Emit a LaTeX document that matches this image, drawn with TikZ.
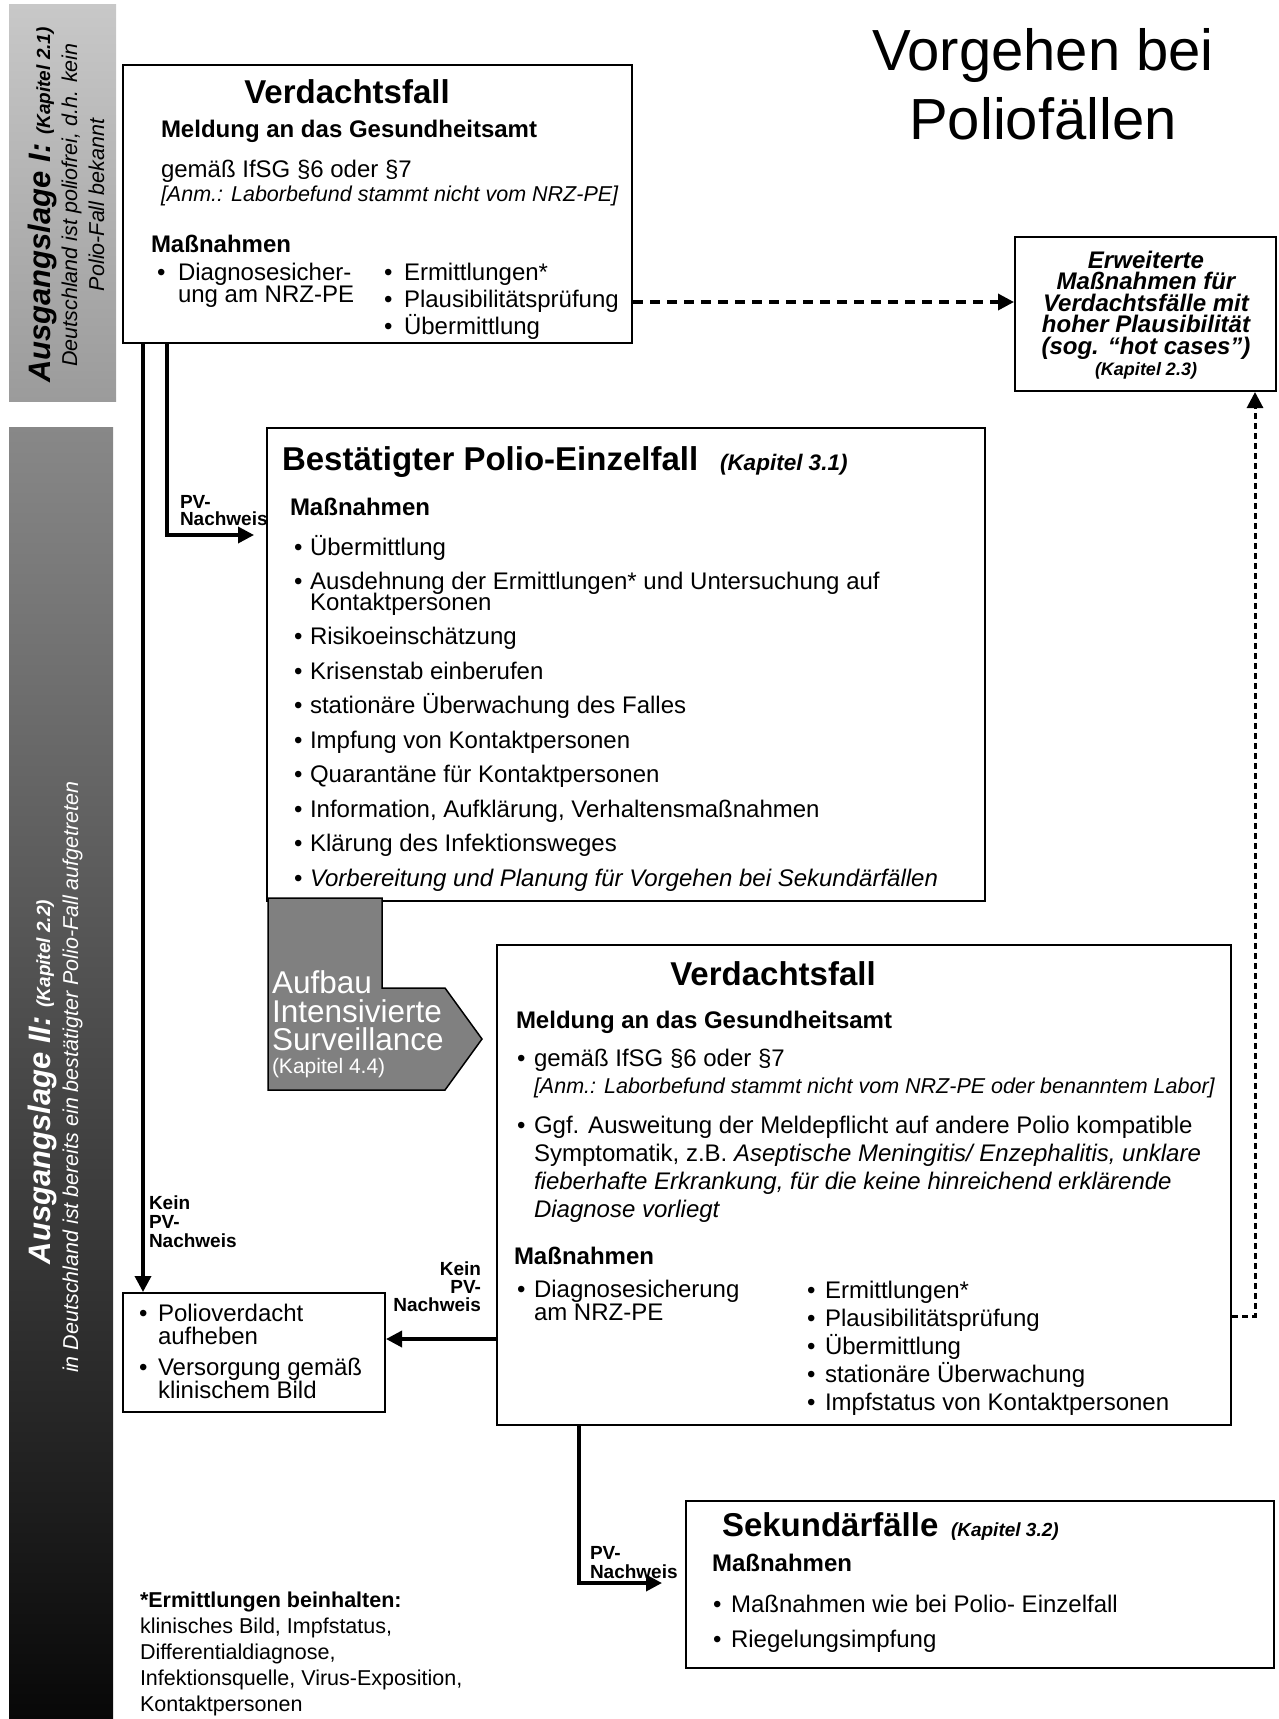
\documentclass[tikz,border=0pt]{standalone}
\usepackage{fontspec}
\setmainfont{Liberation Sans}
\usetikzlibrary{arrows.meta,fit}
\newcommand\fsz[1]{\fontsize{#1}{#1}\selectfont}
\definecolor{barAtop}{RGB}{200,200,200}
\definecolor{barAbot}{RGB}{155,155,155}
\definecolor{barBtop}{RGB}{136,136,136}
\definecolor{barBbot}{RGB}{8,8,8}
\definecolor{midgray}{RGB}{128,128,128}
\begin{document}
\begin{tikzpicture}[x=1pt,y=-1pt,
  box/.style={draw=black, line width=2pt, inner sep=0pt, fill=white},
  txt/.style={anchor=base west, inner sep=0pt, outer sep=0pt},
  ctxt/.style={anchor=base, inner sep=0pt, outer sep=0pt},
  rtxt/.style={anchor=base east, inner sep=0pt, outer sep=0pt},
  body/.style={font=\fsz{24}},
  bbody/.style={font=\fsz{24}\bfseries},
  ibody/.style={font=\fsz{24}\itshape},
  note/.style={font=\fsz{21.5}\itshape},
  ttl/.style={font=\fsz{33}\bfseries},
  lbl/.style={font=\fsz{19}\bfseries},
  foot/.style={font=\fsz{21.5}},
  etxt/.style={anchor=base west, inner sep=0pt, outer sep=0pt, text=white, font=\fsz{31.5}},
  arr/.style={line width=3.5pt, -{Triangle[length=16pt,width=16pt]}},
  dshA/.style={line width=3.5pt, dash pattern=on 10pt off 7pt, -{Triangle[length=16pt,width=16pt]}},
  dshB/.style={line width=3pt, dash pattern=on 6pt off 4pt, -{Triangle[length=16pt,width=16pt]}}
]
\useasboundingbox (0,0) rectangle (1279,1719);

% side bars
\node[fit={(9,4) (116,401)}, inner sep=0pt, top color=barAtop, bottom color=barAbot] (bar1) {};
\node[fit={(9,427) (113,1719)}, inner sep=0pt, top color=barBtop, bottom color=barBbot] (bar2) {};
\node[ctxt, rotate=90] (bar1a) at (50,205) {\fsz{31}\bfseries\itshape Ausgangslage I: {\fsz{19}(Kapitel 2.1)}};
\node[ctxt, rotate=90, note] (bar1b) at (77,205) {Deutschland ist poliofrei, d.h. kein};
\node[ctxt, rotate=90, note] (bar1c) at (104,205) {Polio-Fall bekannt};
\node[ctxt, rotate=90, text=white] (bar2a) at (50,1082) {\fsz{31}\bfseries\itshape Ausgangslage II: {\fsz{19}(Kapitel 2.2)}};
\node[ctxt, rotate=90, note, text=white] (bar2b) at (78,1077) {in Deutschland ist bereits ein bestätigter Polio-Fall aufgetreten};

% title
\node[ctxt, font=\fsz{58}] (title1) at (1043,70) {Vorgehen bei};
\node[ctxt, font=\fsz{58}] (title2) at (1043,139) {Poliofällen};

% boxes
\node[box, fit={(123,65) (632,343)}] (A) {};
\node[box, fit={(1015,237) (1276,391)}] (B) {};
\node[box, fit={(267,428) (985,901)}] (D) {};
\node[box, fit={(497,945) (1231,1425)}] (C) {};
\node[box, fit={(123,1293) (385,1412)}] (F) {};
\node[box, fit={(686,1501) (1274,1668)}] (G) {};

% box A
\node[ctxt, ttl] (a1) at (347,103) {Verdachtsfall};
\node[txt, bbody] (a2) at (161,137) {Meldung an das Gesundheitsamt};
\node[txt, body] (a3) at (161,177) {gemäß IfSG §6 oder §7};
\node[txt, note] (a4) at (161,201) {[Anm.: Laborbefund stammt nicht vom NRZ-PE]};
\node[txt, bbody] (a5) at (151,252) {Maßnahmen};
\node[txt, body] (a6b) at (157,280) {•};
\node[txt, body] (a6) at (178,280) {Diagnosesicher-};
\node[txt, body] (a7) at (178,302) {ung am NRZ-PE};
\node[txt, body] (a8b) at (384,280) {•};
\node[txt, body] (a8) at (404,280) {Ermittlungen*};
\node[txt, body] (a9b) at (384,307) {•};
\node[txt, body] (a9) at (404,307) {Plausibilitätsprüfung};
\node[txt, body] (a10b) at (384,334) {•};
\node[txt, body] (a10) at (404,334) {Übermittlung};

% box B
\node[ctxt, font=\fsz{24}\bfseries\itshape] (b1) at (1146,268) {Erweiterte};
\node[ctxt, font=\fsz{24}\bfseries\itshape] (b2) at (1146,289.5) {Maßnahmen für};
\node[ctxt, font=\fsz{24}\bfseries\itshape] (b3) at (1146,311) {Verdachtsfälle mit};
\node[ctxt, font=\fsz{24}\bfseries\itshape] (b4) at (1146,332.5) {hoher Plausibilität};
\node[ctxt, font=\fsz{24}\bfseries\itshape] (b5) at (1146,354) {(sog. “hot cases”)};
\node[ctxt, font=\fsz{18}\bfseries\itshape] (b6) at (1146,375) {(Kapitel 2.3)};

% box D
\node[txt, ttl] (d1) at (282,470) {Bestätigter Polio-Einzelfall};
\node[txt, font=\fsz{22.5}\bfseries\itshape] (d1k) at (720,470) {(Kapitel 3.1)};
\node[txt, bbody] (d2) at (290,515) {Maßnahmen};
\foreach \n/\yy/\t in {1/555/Übermittlung,
  2/589.5/Ausdehnung der Ermittlungen* und Untersuchung auf,
  3/644.5/Risikoeinschätzung,
  4/679/Krisenstab einberufen,
  5/713.5/stationäre Überwachung des Falles,
  6/748/Impfung von Kontaktpersonen,
  7/782.5/Quarantäne für Kontaktpersonen,
  8/817/{Information, Aufklärung, Verhaltensmaßnahmen},
  9/851.5/Klärung des Infektionsweges}{
  \node[txt, body] (dbul\n) at (294,\yy) {•};
  \node[txt, body] (ditem\n) at (310,\yy) {\t};
}
\node[txt, body] (ditem2b) at (310,610.5) {Kontaktpersonen};
\node[txt, body] (dbul10) at (294,886) {•};
\node[txt, ibody] (ditem10) at (310,886) {Vorbereitung und Planung für Vorgehen bei Sekundärfällen};

% shape E
\draw[line width=1.5pt, fill=midgray] (268,898) -- (382,898) -- (382,988) -- (445,988) -- (482,1039) -- (445,1090) -- (268,1090) -- cycle;
\node[etxt] (e1) at (272,993) {Aufbau};
\node[etxt] (e2) at (272,1022) {Intensivierte};
\node[etxt] (e3) at (272,1050) {Surveillance};
\node[etxt, font=\fsz{21}] (e4) at (272,1073) {(Kapitel 4.4)};

% box C
\node[ctxt, ttl] (c1) at (773,985) {Verdachtsfall};
\node[txt, bbody] (c2) at (516,1028) {Meldung an das Gesundheitsamt};
\node[txt, body] (c3b) at (517,1066) {•};
\node[txt, body] (c3) at (534,1066) {gemäß IfSG §6 oder §7};
\node[txt, note] (c4) at (534,1093) {[Anm.: Laborbefund stammt nicht vom NRZ-PE oder benanntem Labor]};
\node[txt, body] (c5b) at (517,1133) {•};
\node[txt, body] (c5) at (534,1133) {Ggf. Ausweitung der Meldepflicht auf andere Polio kompatible};
\node[txt, body] (c6) at (534,1161) {Symptomatik, z.B. \textit{Aseptische Meningitis/ Enzephalitis, unklare}};
\node[txt, ibody] (c7) at (534,1189) {fieberhafte Erkrankung, für die keine hinreichend erklärende};
\node[txt, ibody] (c8) at (534,1217) {Diagnose vorliegt};
\node[txt, bbody] (c9) at (514,1264) {Maßnahmen};
\node[txt, body] (c10b) at (517,1297) {•};
\node[txt, body] (c10) at (534,1297) {Diagnosesicherung};
\node[txt, body] (c11) at (534,1320) {am NRZ-PE};
\foreach \n/\yy/\t in {1/1298/Ermittlungen*,2/1326/Plausibilitätsprüfung,3/1354/Übermittlung,4/1382/stationäre Überwachung,5/1410/Impfstatus von Kontaktpersonen}{
  \node[txt, body] (crb\n) at (807,\yy) {•};
  \node[txt, body] (cr\n) at (825,\yy) {\t};
}

% box F
\node[txt, body] (f1b) at (139,1321) {•};
\node[txt, body] (f1) at (158,1321) {Polioverdacht};
\node[txt, body] (f2) at (158,1344) {aufheben};
\node[txt, body] (f3b) at (139,1375) {•};
\node[txt, body] (f3) at (158,1375) {Versorgung gemäß};
\node[txt, body] (f4) at (158,1398) {klinischem Bild};

% box G
\node[txt, ttl] (g1) at (722,1536) {Sekundärfälle};
\node[txt, font=\fsz{19}\bfseries\itshape] (g1k) at (951,1536) {(Kapitel 3.2)};
\node[txt, bbody] (g2) at (712,1571) {Maßnahmen};
\node[txt, body] (g3b) at (713,1612) {•};
\node[txt, body] (g3) at (731,1612) {Maßnahmen wie bei Polio- Einzelfall};
\node[txt, body] (g4b) at (713,1647) {•};
\node[txt, body] (g4) at (731,1647) {Riegelungsimpfung};

% footnote
\node[txt, font=\fsz{21.5}\bfseries] (n1) at (140,1607) {*Ermittlungen beinhalten:};
\node[txt, foot] (n2) at (140,1633) {klinisches Bild, Impfstatus,};
\node[txt, foot] (n3) at (140,1659) {Differentialdiagnose,};
\node[txt, foot] (n4) at (140,1685) {Infektionsquelle, Virus-Exposition,};
\node[txt, foot] (n5) at (140,1711) {Kontaktpersonen};

% connectors
\coordinate (k1) at (143,0);
\draw[arr] (k1 |- A.south) -- (k1 |- F.north);
\coordinate (k2) at (167,535);
\draw[arr, shorten >=12pt] (k2 |- A.south) -- (k2) -- (D.west |- k2);
\coordinate (k3) at (0,1339);
\draw[arr] (C.west |- k3) -- (F.east |- k3);
\coordinate (k4) at (579,1583);
\draw[arr, shorten >=23pt] (k4 |- C.south) -- (k4) -- (G.west |- k4);
\coordinate (k5) at (0,302);
\draw[dshA] (A.east |- k5) -- (B.west |- k5);
\coordinate (k6) at (1255,1316);
\draw[dshB] (C.east |- k6) -- (k6) -- (k6 |- B.south);

% connector labels
\node[txt, lbl] (l1a) at (149,1209) {Kein};
\node[txt, lbl] (l1b) at (149,1228) {PV-};
\node[txt, lbl] (l1c) at (149,1247) {Nachweis};
\node[txt, lbl] (l2a) at (180,508) {PV-};
\node[txt, lbl] (l2b) at (180,525) {Nachweis};
\node[rtxt, lbl] (l3a) at (481,1275) {Kein};
\node[rtxt, lbl] (l3b) at (481,1293) {PV-};
\node[rtxt, lbl] (l3c) at (481,1311) {Nachweis};
\node[txt, lbl] (l4a) at (590,1559) {PV-};
\node[txt, lbl] (l4b) at (590,1578) {Nachweis};
\end{tikzpicture}
\end{document}
